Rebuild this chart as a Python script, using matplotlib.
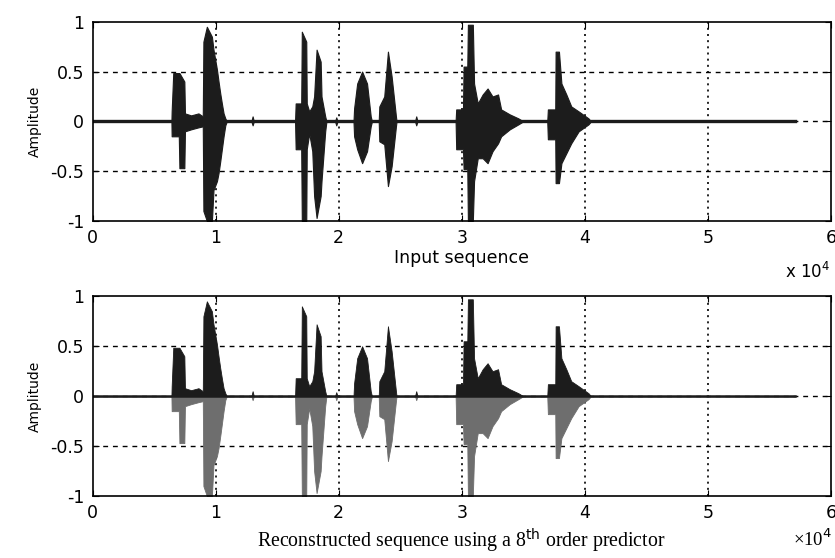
import numpy as np
import matplotlib
matplotlib.use('Agg')
from matplotlib import pyplot as plt

# envelope of the speech signal (x in units of 1e4 samples)
env_x = [0.00, 0.640, 0.642, 0.655, 0.700, 0.705, 0.745, 0.750, 0.80, 0.86, 0.895,
         0.900, 0.928, 0.969, 0.982, 1.010, 1.023, 1.037, 1.050, 1.064, 1.078, 1.09,
         1.29, 1.30, 1.31,
         1.645, 1.650, 1.695, 1.700, 1.736, 1.740, 1.760,
         1.785, 1.800, 1.820, 1.853, 1.860, 1.890, 1.900,
         1.97, 1.98, 1.99,
         2.120, 2.125, 2.150, 2.190, 2.230, 2.260, 2.270,
         2.325, 2.330, 2.370, 2.400, 2.430, 2.465, 2.470,
         2.62, 2.63, 2.64,
         2.950, 2.955, 3.010, 3.015, 3.045, 3.050, 3.090, 3.100, 3.130, 3.170,
         3.210, 3.250, 3.295, 3.320, 3.390, 3.460, 3.500,
         3.695, 3.700, 3.760, 3.763, 3.790, 3.810, 3.850, 3.890, 3.950, 4.030, 4.050,
         5.71]
env_up = [0.00, 0.00, 0.10, 0.485, 0.485, 0.485, 0.40, 0.08, 0.06, 0.08, 0.05,
          0.80, 0.95, 0.85, 0.72, 0.52, 0.40, 0.28, 0.18, 0.08, 0.03, 0.00,
          0.00, 0.05, 0.00,
          0.00, 0.18, 0.18, 0.90, 0.80, 0.18, 0.10,
          0.15, 0.25, 0.72, 0.60, 0.25, 0.05, 0.00,
          0.00, 0.04, 0.00,
          0.00, 0.13, 0.38, 0.50, 0.38, 0.05, 0.00,
          0.00, 0.15, 0.25, 0.70, 0.45, 0.05, 0.00,
          0.00, 0.05, 0.00,
          0.00, 0.12, 0.12, 0.55, 0.55, 0.97, 0.97, 0.38, 0.18, 0.27,
          0.33, 0.25, 0.27, 0.12, 0.07, 0.03, 0.00,
          0.00, 0.12, 0.12, 0.70, 0.70, 0.38, 0.27, 0.15, 0.10, 0.03, 0.00,
          0.00]
env_lo = [0.00, 0.00, -0.15, -0.15, -0.15, -0.47, -0.47, -0.10, -0.08, -0.06, -0.05,
          -0.90, -1.00, -1.00, -0.69, -0.60, -0.52, -0.40, -0.28, -0.15, -0.04, 0.00,
          0.00, -0.04, 0.00,
          0.00, -0.28, -0.28, -1.00, -1.00, -0.28, -0.12,
          -0.30, -0.75, -0.97, -0.75, -0.60, -0.10, 0.00,
          0.00, -0.04, 0.00,
          0.00, -0.15, -0.28, -0.42, -0.30, -0.05, 0.00,
          0.00, -0.20, -0.23, -0.65, -0.45, -0.05, 0.00,
          0.00, -0.04, 0.00,
          0.00, -0.28, -0.28, -0.48, -0.48, -1.00, -1.00, -0.60, -0.37, -0.37,
          -0.42, -0.30, -0.22, -0.15, -0.08, -0.03, 0.00,
          0.00, -0.18, -0.18, -0.62, -0.62, -0.42, -0.32, -0.22, -0.10, -0.03, 0.00,
          0.00]

x_ticks = [0, 1, 2, 3, 4, 5, 6]
y_ticks = [-1, -0.5, 0, 0.5, 1]
y_ticklabels = ['-1', '-0.5', '0', '0.5', '1']
sig_end = 5.71

fig = plt.figure(figsize=(8.35, 5.58), dpi=100)
ax1 = fig.add_axes([0.111, 0.604, 0.884, 0.357])
ax2 = fig.add_axes([0.111, 0.111, 0.884, 0.358])

x = np.array(env_x)
up = np.array(env_up)
lo = np.array(env_lo)

# top: input sequence
ax1.fill_between(x, lo, up, color='#1c1c1c', lw=0.8, edgecolor='#1c1c1c')
ax1.plot([0, sig_end], [0, 0], color='#1c1c1c', lw=2.4)

# bottom: reconstructed (positive half black, negative half grey)
ax2.fill_between(x, 0, up, color='#1c1c1c', lw=0.6, edgecolor='#1c1c1c')
ax2.fill_between(x, lo, 0, color='#6e6e6e', lw=0.6, edgecolor='#6e6e6e')
ax2.plot([0, sig_end], [0, 0], color='#1c1c1c', lw=1.8)

for ax in (ax1, ax2):
    ax.set_xlim(0, 6)
    ax.set_ylim(-1, 1)
    ax.set_xticks(x_ticks)
    ax.set_xticklabels([str(t) for t in x_ticks])
    ax.set_yticks(y_ticks)
    ax.set_yticklabels(y_ticklabels)
    for v in x_ticks[1:-1]:
        ax.axvline(v, color='black', lw=1.2, ls=(0, (1.2, 2.5)), zorder=0.5)
    for h in y_ticks[1:-1]:
        ax.axhline(h, color='black', lw=1.0, ls=(0, (3.5, 3.5)), zorder=0.5)
    ax.tick_params(direction='in', length=4, top=True, right=True, labelsize=12.5, pad=6)
    for lab in ax.get_xticklabels() + ax.get_yticklabels():
        lab.set_family('DejaVu Sans')
    for s in ax.spines.values():
        s.set_linewidth(1.2)

ax1.set_xlabel('Input sequence', fontsize=12.5, family='DejaVu Sans', labelpad=1)
ax1.set_ylabel('Amplitude', fontsize=10, family='DejaVu Sans', labelpad=6)
fig.text(0.994, 0.502, 'x 10$^4$', fontsize=12, family='DejaVu Sans', ha='right')

ax2.set_xlabel('Reconstructed sequence using a 8$^{\\mathrm{th}}$ order predictor',
               fontsize=14.3, family='Liberation Serif', labelpad=3)
ax2.set_ylabel('Amplitude', fontsize=10, family='DejaVu Sans', labelpad=6)
fig.text(0.996, 0.022, '\u00d710$^4$', fontsize=13.5, family='Liberation Serif', ha='right')

fig.savefig('out.png', dpi=100)
